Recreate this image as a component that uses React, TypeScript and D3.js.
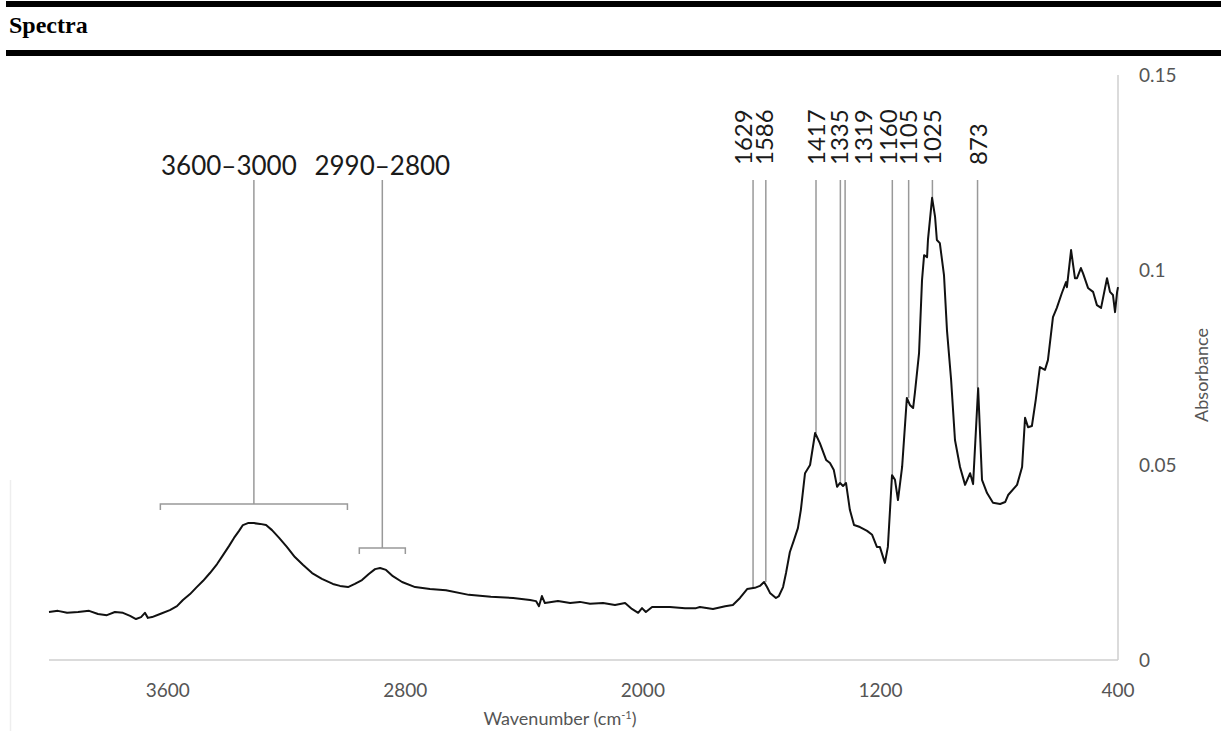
import React from "react";
import * as d3 from "d3";

// spectrum (cm-1, absorbance)
const wavenumbers = [4000,3970,3939,3902,3865,3835,3805,3778,3751,3727,3707,3690,3677,3667,3653,3626,3593,3569,3549,3525,3505,3481,3458,3434,3414,3394,3377,3360,3347,3330,3310,3289,3269,3249,3225,3199,3172,3145,3114,3081,3044,3020,2993,2970,2946,2922,2902,2885,2865,2842,2811,2767,2717,2663,2586,2512,2437,2380,2360,2350,2340,2330,2286,2245,2212,2178,2134,2094,2060,2037,2016,2003,1990,1969,1909,1858,1821,1808,1764,1723,1697,1673,1649,1623,1606,1592,1582,1572,1552,1542,1528,1518,1505,1491,1478,1468,1454,1437,1420,1404,1383,1370,1357,1346,1336,1326,1316,1303,1289,1269,1245,1228,1212,1202,1185,1175,1161,1151,1141,1127,1111,1101,1090,1084,1070,1060,1053,1043,1040,1026,1016,1010,1000,986,976,962,949,932,915,898,888,871,858,841,821,797,780,770,740,723,713,703,690,677,663,646,636,619,606,589,575,572,558,545,538,525,518,501,484,471,457,437,427,417,410,403,400];
const absorbance = [.0123,.0126,.0121,.0123,.0126,.0118,.0115,.0123,.0121,.0113,.0105,.0110,.0121,.0108,.0110,.0118,.0128,.0138,.0154,.0169,.0185,.0203,.0223,.0246,.0269,.0292,.0313,.0331,.0346,.0351,.0351,.0349,.0346,.0333,.0313,.0290,.0264,.0244,.0223,.0208,.0195,.0190,.0187,.0195,.0205,.0221,.0233,.0236,.0231,.0215,.0200,.0187,.0182,.0179,.0167,.0162,.0159,.0154,.0151,.0138,.0164,.0146,.0151,.0146,.0149,.0144,.0146,.0141,.0146,.0131,.0121,.0133,.0123,.0136,.0136,.0133,.0133,.0136,.0131,.0138,.0141,.0159,.0182,.0185,.0190,.0200,.0187,.0172,.0159,.0164,.0187,.0223,.0277,.0308,.0338,.0385,.0479,.0500,.0582,.0556,.0513,.0505,.0487,.0444,.0454,.0446,.0454,.0385,.0346,.0341,.0331,.0321,.0290,.0290,.0249,.0290,.0474,.0462,.0410,.0495,.0672,.0654,.0646,.0685,.0787,.0974,.1038,.1033,.1077,.1185,.1136,.1077,.1069,.0987,.0846,.0718,.0564,.0495,.0449,.0479,.0451,.0697,.0462,.0428,.0403,.0400,.0405,.0423,.0449,.0495,.0621,.0597,.0600,.0667,.0751,.0744,.0769,.0879,.0903,.0941,.0969,.0956,.1051,.0979,.0979,.1005,.0992,.0954,.0944,.0910,.0903,.0979,.0944,.0936,.0892,.0944,.0956];

const xTicks = [3600, 2800, 2000, 1200, 400];
const yTicks = [0, 0.05, 0.1, 0.15];
const yTickLabels = ["0", "0.05", "0.1", "0.15"];

// labelled peaks and where their marker lines touch the curve
const peaks = [1629, 1586, 1417, 1335, 1319, 1160, 1105, 1025, 873];
const peakTops = [0.0182, 0.02, 0.0582, 0.0454, 0.0454, 0.0474, 0.0672, 0.1185, 0.0697];
const peakLabelShift = [-9, -1, 1, -1, 18, -4, 0, 0, 1];

// bracketed bands
const bandLabels = ["3600–3000", "2990–2800"];
const bandStart = [3625, 2955];
const bandEnd = [2995, 2800];
const bandLevel = [0.04, 0.0287];

const W = 1221, H = 731;
const font = "Lato, 'Open Sans', sans-serif";

export default function App() {
  const x = d3.scaleLinear().domain([4000, 400]).range([49, 1118]);
  const y = d3.scaleLinear().domain([0, 0.15]).range([660, 75]);
  const pts: [number, number][] = wavenumbers.map((w, i) => [w, absorbance[i]]);
  const line = d3.line<[number, number]>().x(d => x(d[0])).y(d => y(d[1]));

  const labelTop = 180;
  const labelBase = 165;

  return (
    <svg width={W} height={H} style={{ position: "absolute", left: 0, top: 0, background: "#fff" }}>
      {/* header */}
      <rect x={6} y={1} width={W - 6} height={6} fill="#000" />
      <text x={9} y={33} fontFamily="'Liberation Serif', 'Times New Roman', serif" fontWeight="bold" fontSize={24}>Spectra</text>
      <rect x={6} y={50} width={W - 6} height={6} fill="#000" />

      <line x1={10.5} x2={10.5} y1={480} y2={H} stroke="#eee" strokeWidth={1.5} />

      {/* axes */}
      <line x1={x(4000)} x2={x(400)} y1={y(0)} y2={y(0)} stroke="#cfcfcf" strokeWidth={1.5} />
      <line x1={x(400)} x2={x(400)} y1={y(0)} y2={y(0.15)} stroke="#cfcfcf" strokeWidth={1.5} />
      {xTicks.map(t => (
        <text key={t} x={x(t)} y={697} textAnchor="middle" fontFamily={font} fontSize={19} fill="#555">{t}</text>
      ))}
      {yTicks.map((t, i) => (
        <text key={t} x={1139} y={y(t)} dy="0.35em" fontFamily={font} fontSize={19} fill="#555">{yTickLabels[i]}</text>
      ))}
      <text x={560} y={725} textAnchor="middle" fontFamily={font} fontSize={18} fill="#555">
        Wavenumber (cm<tspan dy={-6} fontSize={11}>-1</tspan><tspan dy={6}>)</tspan>
      </text>
      <text transform={`translate(1208,375) rotate(-90)`} textAnchor="middle" fontFamily={font} fontSize={18} fill="#555">Absorbance</text>

      {/* peak markers */}
      {peaks.map((p, i) => (
        <g key={p}>
          <line x1={x(p)} x2={x(p)} y1={labelTop} y2={y(peakTops[i])} stroke="#999" strokeWidth={1.5} />
          <text transform={`translate(${x(p) + peakLabelShift[i]},${labelBase}) rotate(-90)`} dy="0.35em"
            fontFamily={font} fontSize={24} fill="#1a1a1a">{p}</text>
        </g>
      ))}

      {/* band brackets */}
      {bandLabels.map((b, i) => {
        const x0 = x(bandStart[i]), x1 = x(bandEnd[i]), xm = (x0 + x1) / 2, yb = y(bandLevel[i]);
        return (
          <g key={b} fill="none" stroke="#999" strokeWidth={1.5}>
            <path d={`M${x0},${yb + 6}V${yb}H${x1}V${yb + 6}`} />
            <line x1={xm} x2={xm} y1={labelTop} y2={yb} />
          </g>
        );
      })}
      <text x={(x(bandStart[0]) + x(bandEnd[0])) / 2 - 25} y={175} textAnchor="middle" fontFamily={font} fontSize={26} fill="#1a1a1a">{bandLabels[0]}</text>
      <text x={(x(bandStart[1]) + x(bandEnd[1])) / 2} y={175} textAnchor="middle" fontFamily={font} fontSize={26} fill="#1a1a1a">{bandLabels[1]}</text>

      {/* spectrum */}
      <path d={line(pts) || ""} fill="none" stroke="#111" strokeWidth={2} strokeLinejoin="round" />
    </svg>
  );
}
